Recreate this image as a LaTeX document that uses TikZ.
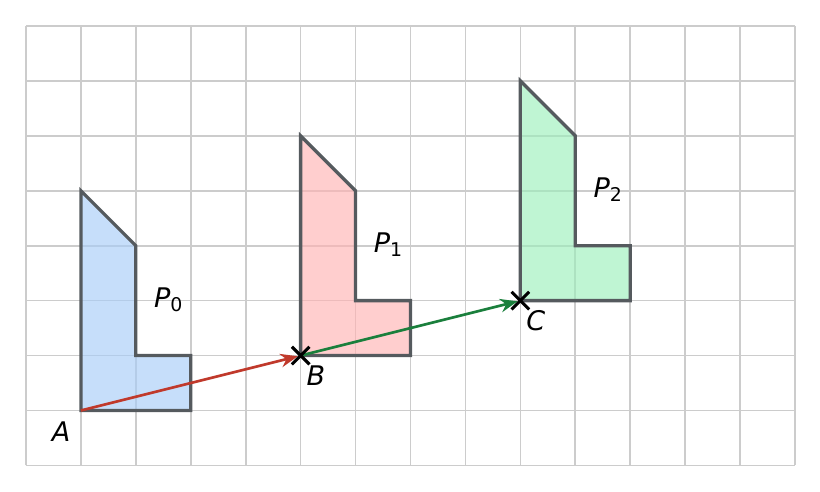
\documentclass[tikz,border=0pt]{standalone}
\usepackage{fontspec}
\setmainfont{DejaVu Sans}
\usetikzlibrary{arrows.meta,calc}
\definecolor{gridc}{HTML}{CCCCCC}
\definecolor{edgec}{HTML}{555A5E}
\definecolor{fillb}{HTML}{A8CDF8}
\definecolor{fillr}{HTML}{FFB3B3}
\definecolor{fillg}{HTML}{9DEFBC}
\definecolor{arrr}{HTML}{C0392B}
\definecolor{arrg}{HTML}{1A7F3C}
\tikzset{
  poly/.style={draw=edgec, line width=1.7pt, line join=miter, fill opacity=0.65, draw opacity=1},
  lbl/.style={font=\fontsize{14}{16}\selectfont\itshape, inner sep=0pt},
  vec/.style={line width=1.4pt, -{Stealth[length=9pt,width=7pt]}, shorten >=1.5pt},
  crossmk/.style={line width=1.6pt, black}
}
\begin{document}
\begin{tikzpicture}[x=1cm,y=1cm]
\useasboundingbox (-0.473,-0.466) rectangle (14.455,8.473);
\draw[gridc, line width=0.85pt] (0,0) grid (14,8);
\path[poly, fill=fillb] (1,1) -- (3,1) -- (3,2) -- (2,2) -- (2,4) -- (1,5) -- cycle;
\path[poly, fill=fillr] (5,2) -- (7,2) -- (7,3) -- (6,3) -- (6,5) -- (5,6) -- cycle;
\path[poly, fill=fillg] (9,3) -- (11,3) -- (11,4) -- (10,4) -- (10,6) -- (9,7) -- cycle;
\coordinate (A) at (1,1);
\coordinate (B) at (5,2);
\coordinate (C) at (9,3);
\draw[vec, arrr] (A) -- (B);
\draw[vec, arrg] (B) -- (C);
\foreach \p in {B,C}{
  \draw[crossmk] ($(\p)+(-0.16,-0.16)$) -- ($(\p)+(0.16,0.16)$);
  \draw[crossmk] ($(\p)+(-0.16,0.16)$) -- ($(\p)+(0.16,-0.16)$);
}
\node[lbl] (la) at (0.64,0.62) {A};
\node[lbl] (lb) at (5.28,1.64) {B};
\node[lbl] (lc) at (9.28,2.64) {C};
\node[lbl] (p0) at (2.6,3.02) {P\textsubscript{\upshape 0}};
\node[lbl] (p1) at (6.6,4.02) {P\textsubscript{\upshape 1}};
\node[lbl] (p2) at (10.6,5.02) {P\textsubscript{\upshape 2}};
\end{tikzpicture}
\end{document}
